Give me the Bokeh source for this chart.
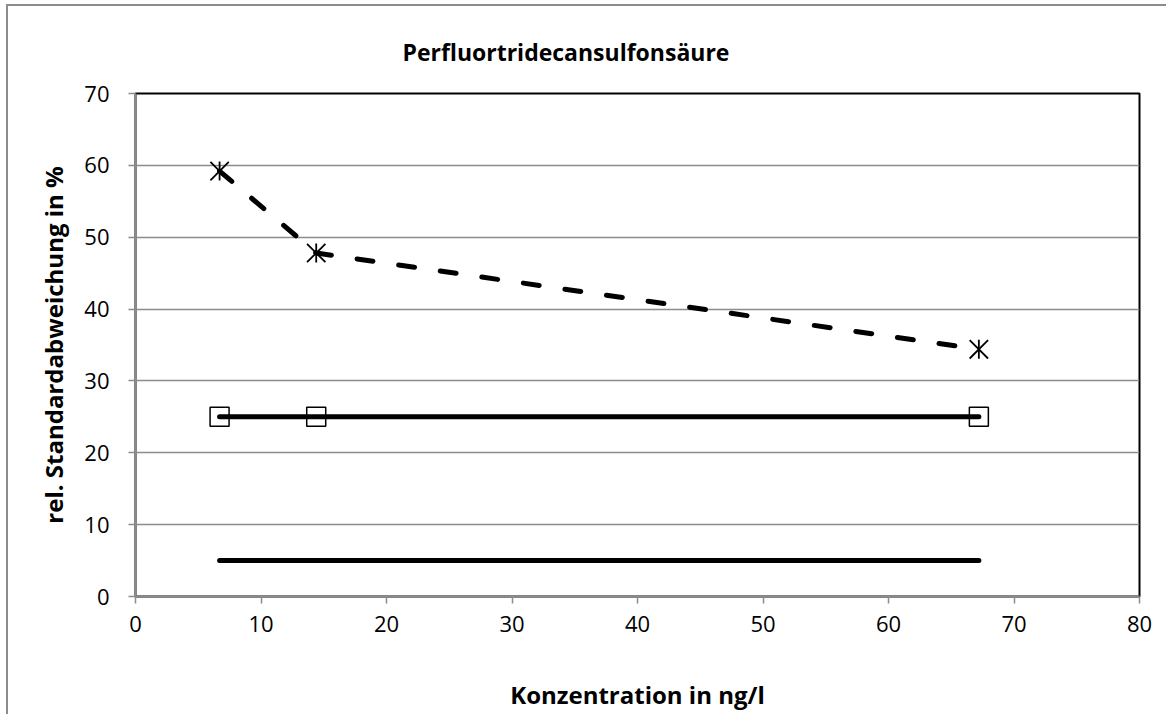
from bokeh.plotting import figure
from bokeh.models import Range1d, FixedTicker
from bokeh.embed import file_html
from bokeh.resources import INLINE

# ---- data ----
title_text = "Perfluortridecansulfonsäure"
x_label = "Konzentration in ng/l"
y_label = "rel. Standardabweichung in %"
conc = [6.7, 14.4, 67.2]
rsd = [59.2, 47.8, 34.4]
upper_limit = [25, 25, 25]
lower_limit = [5, 5, 5]
x_ticks = [0, 10, 20, 30, 40, 50, 60, 70, 80]
y_ticks = [0, 10, 20, 30, 40, 50, 60, 70]

FONT = "Open Sans"
GREY = "#8c8c8c"

p = figure(width=1160, height=710, output_backend="svg", toolbar_location=None,
           x_range=Range1d(0, 80), y_range=Range1d(0, 70),
           min_border_left=127, min_border_right=29,
           min_border_top=87, min_border_bottom=120)
p.styles = {"margin-left": "6px", "margin-top": "4px",
            "border-top": "2px solid " + GREY, "border-left": "2px solid " + GREY}

p.outline_line_color = "black"
p.outline_line_width = 2
p.xgrid.visible = False
p.ygrid.grid_line_color = GREY
p.ygrid.grid_line_width = 1.5

for ax, ticks in ((p.xaxis, x_ticks), (p.yaxis, y_ticks)):
    ax.ticker = FixedTicker(ticks=ticks)
    ax.axis_line_color = GREY
    ax.axis_line_width = 2
    ax.major_tick_line_color = GREY
    ax.major_tick_line_width = 1.5
    ax.major_tick_out = 7
    ax.major_tick_in = 0
    ax.minor_tick_line_color = None
    ax.major_label_text_font = FONT
    ax.major_label_text_font_size = "22px"
    ax.major_label_text_color = "black"
    ax.axis_label_text_font = FONT
    ax.axis_label_text_font_size = "24px"
    ax.axis_label_text_font_style = "bold"
    ax.axis_label_text_color = "black"

p.xaxis.axis_label = x_label
p.yaxis.axis_label = y_label
p.xaxis.major_label_standoff = 12
p.yaxis.major_label_standoff = 19
p.xaxis.axis_label_standoff = 43
p.yaxis.axis_label_standoff = 11

p.title.text = title_text
p.title.text_font = FONT
p.title.text_font_size = "23px"
p.title.text_font_style = "bold"
p.title.text_color = "black"
p.title.align = "left"
p.title.vertical_align = "top"
p.title.offset = 267
p.title.standoff = 48

# lines
p.line(conc, lower_limit, line_color="black", line_width=5, line_cap="round")
p.line(conc, upper_limit, line_color="black", line_width=5, line_cap="round")
p.scatter(conc, upper_limit, marker="square", size=19, fill_color=None,
          line_color="black", line_width=1.5)
p.line(conc, rsd, line_color="black", line_width=5, line_dash="16 26", line_cap="round")
p.scatter(conc, rsd, marker="x", size=26, line_color="black", line_width=1.8)
p.scatter(conc, rsd, marker="dash", angle=1.5708, size=19, line_color="black", line_width=1.8)

open("out.html", "w").write(file_html(p, INLINE))
